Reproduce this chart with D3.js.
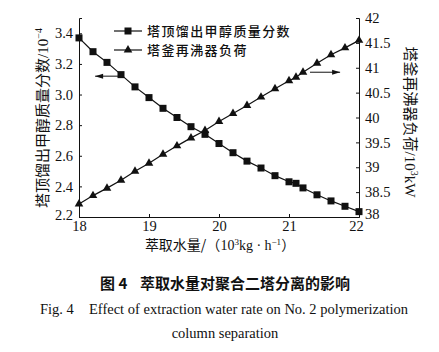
<!DOCTYPE html>
<html>
<head>
<meta charset="utf-8">
<script src="https://cdn.jsdelivr.net/npm/d3@7"></script>
<style>
  body { margin: 0; background: #fff; }
  svg { display: block; }
  .serif { font-family: "Liberation Serif", "DejaVu Serif", serif; }
  .cjk { font-family: "Noto Sans CJK SC", sans-serif; }
</style>
</head>
<body>
<svg width="439" height="352"></svg>
<script>
// extraction water rate, 10^3 kg/h
var waterRate = [18, 18.2, 18.4, 18.6, 18.8, 19, 19.2, 19.4, 19.6, 19.8, 20, 20.2, 20.4, 20.6, 20.8, 21, 21.1, 21.2, 21.4, 21.6, 21.8, 22];
// methanol mass fraction at top, 10^-4 (squares, left axis)
var methanol = [3.37, 3.28, 3.21, 3.13, 3.05, 2.98, 2.91, 2.85, 2.79, 2.74, 2.68, 2.62, 2.565, 2.52, 2.47, 2.43, 2.42, 2.39, 2.345, 2.305, 2.27, 2.235];
// reboiler duty, 10^3 kW (triangles, right axis)
var duty = [38.26, 38.43, 38.58, 38.74, 38.92, 39.08, 39.26, 39.43, 39.59, 39.74, 39.92, 40.08, 40.24, 40.41, 40.58, 40.74, 40.81, 40.91, 41.09, 41.26, 41.40, 41.55];

var xTicks = [18, 19, 20, 21, 22];
var leftTicks = [2.2, 2.4, 2.6, 2.8, 3.0, 3.2, 3.4];
var rightTicks = [38, 38.5, 39, 39.5, 40, 40.5, 41, 41.5, 42];

var svg = d3.select("svg");

var x = d3.scaleLinear().domain([18, 22]).range([79, 359]);
var yL = d3.scaleLinear().domain([2.2, 3.5]).range([217, 18]);
var yR = d3.scaleLinear().domain([38, 42]).range([217, 18]);

// axes, ticks point inward
var xAxis = svg.append("g")
    .attr("transform", "translate(0,217)")
    .call(d3.axisBottom(x).tickValues(xTicks).tickFormat(d3.format("d"))
      .tickSizeInner(-3).tickSizeOuter(0).tickPadding(4));

var lAxis = svg.append("g")
    .attr("transform", "translate(79,0)")
    .call(d3.axisLeft(yL).tickValues(leftTicks).tickFormat(d3.format(".1f"))
      .tickSizeInner(-3).tickSizeOuter(-3).tickPadding(6));

var rAxis = svg.append("g")
    .attr("transform", "translate(359,0)")
    .call(d3.axisRight(yR).tickValues(rightTicks).tickFormat(function(d) { return d; })
      .tickSizeInner(-3).tickSizeOuter(-3).tickPadding(6));

[xAxis, lAxis, rAxis].forEach(function(g) {
  g.selectAll("path, line").attr("stroke", "#111").attr("stroke-width", 1);
  g.selectAll("text")
    .attr("class", "serif")
    .attr("font-family", null)
    .style("font-size", "14.5px")
    .attr("fill", "#111");
});
// the 22 / 38 labels sit apart like the original
xAxis.selectAll(".tick text").filter(function(d) { return d == 22; }).attr("dx", "-3");
rAxis.selectAll(".tick text").filter(function(d) { return d == 38; }).attr("dy", "0.1em");
lAxis.selectAll(".tick text").filter(function(d) { return d == 2.2; }).attr("dy", "0.2em");

// series
var lineL = d3.line().x(function(d, i) { return x(waterRate[i]); }).y(function(d) { return yL(d); });
var lineR = d3.line().x(function(d, i) { return x(waterRate[i]); }).y(function(d) { return yR(d); });

svg.append("path").datum(methanol).attr("d", lineL)
  .attr("fill", "none").attr("stroke", "#111").attr("stroke-width", 1.2);
svg.append("path").datum(duty).attr("d", lineR)
  .attr("fill", "none").attr("stroke", "#111").attr("stroke-width", 1.2);

svg.selectAll("rect.sq").data(methanol).enter().append("rect")
  .attr("class", "sq")
  .attr("x", function(d, i) { return x(waterRate[i]) - 3.5; })
  .attr("y", function(d) { return yL(d) - 3.5; })
  .attr("width", 7).attr("height", 7)
  .attr("fill", "#111");

var tri = d3.symbol().type(d3.symbolTriangle).size(32);
svg.selectAll("path.tri").data(duty).enter().append("path")
  .attr("class", "tri")
  .attr("d", tri)
  .attr("transform", function(d, i) { return "translate(" + x(waterRate[i]) + "," + yR(d) + ")"; })
  .attr("fill", "#111");

// arrows pointing to each curve's axis
function arrow(x1, x2, y) {
  var dir = x2 > x1 ? 1 : -1;
  svg.append("line").attr("x1", x1).attr("x2", x2).attr("y1", y).attr("y2", y)
    .attr("stroke", "#111").attr("stroke-width", 1);
  svg.append("path")
    .attr("d", "M" + x2 + "," + y + "L" + (x2 - dir * 8) + "," + (y - 2.5) + "L" + (x2 - dir * 8) + "," + (y + 2.5) + "Z")
    .attr("fill", "#111");
}
arrow(x(18.6), x(18.23), yL(3.12));
arrow(x(21.3), x(21.73), yR(40.91));

// legend
var legend = [
  { label: "塔顶馏出甲醇质量分数", shape: "sq", y: 31 },
  { label: "塔釜再沸器负荷", shape: "tri", y: 50 }
];
legend.forEach(function(l) {
  svg.append("line").attr("x1", 114).attr("x2", 142).attr("y1", l.y).attr("y2", l.y)
    .attr("stroke", "#111").attr("stroke-width", 1.2);
  if (l.shape == "sq") {
    svg.append("rect").attr("x", 124.5).attr("y", l.y - 3.5).attr("width", 7).attr("height", 7).attr("fill", "#111");
  } else {
    svg.append("path").attr("d", tri).attr("transform", "translate(128," + l.y + ")").attr("fill", "#111");
  }
  svg.append("text").attr("class", "cjk").attr("x", 147).attr("y", l.y + 5)
    .style("font-size", "13px").style("font-weight", "500").style("letter-spacing", "1.4px")
    .attr("fill", "#111").text(l.label);
});

// axis titles
var lt = svg.append("text").attr("class", "cjk")
  .attr("transform", "translate(48,118) rotate(-90)")
  .attr("text-anchor", "middle").style("font-size", "15px").attr("fill", "#111");
lt.append("tspan").text("塔顶馏出甲醇质量分数");
lt.append("tspan").attr("class", "serif").text("/10");
lt.append("tspan").attr("class", "serif").attr("dy", "-6").style("font-size", "10px").text("−4");

var rt = svg.append("text").attr("class", "cjk")
  .attr("transform", "translate(405,122) rotate(90)")
  .attr("text-anchor", "middle").style("font-size", "15px").attr("fill", "#111");
rt.append("tspan").text("塔釜再沸器负荷");
rt.append("tspan").attr("class", "serif").text("/10");
rt.append("tspan").attr("class", "serif").attr("dy", "-6").style("font-size", "10px").text("3");
rt.append("tspan").attr("class", "serif").attr("dy", "6").text("kW");

var xt = svg.append("text").attr("class", "cjk")
  .attr("x", 220).attr("y", 250)
  .attr("text-anchor", "middle").style("font-size", "14px").attr("fill", "#111");
xt.append("tspan").text("萃取水量/（");
xt.append("tspan").attr("class", "serif").text("10");
xt.append("tspan").attr("class", "serif").attr("dy", "-5").style("font-size", "9px").text("3");
xt.append("tspan").attr("class", "serif").attr("dy", "5").text("kg · h");
xt.append("tspan").attr("class", "serif").attr("dy", "-5").style("font-size", "9px").text("−1");
xt.append("tspan").attr("dy", "5").text("）");

// caption
svg.append("text").attr("class", "cjk").attr("x", 100).attr("y", 289)
  .style("font-size", "15px").style("font-weight", "bold").attr("fill", "#111").text("图 4");
svg.append("text").attr("class", "cjk").attr("x", 140).attr("y", 289)
  .style("font-size", "15px").style("font-weight", "bold").attr("fill", "#111").text("萃取水量对聚合二塔分离的影响");
svg.append("text").attr("class", "serif").attr("x", 40).attr("y", 314)
  .style("font-size", "14.5px").attr("fill", "#111").text("Fig. 4");
svg.append("text").attr("class", "serif").attr("x", 89).attr("y", 314)
  .style("font-size", "14.5px").attr("fill", "#111").text("Effect of extraction water rate on No. 2 polymerization");
svg.append("text").attr("class", "serif").attr("x", 225).attr("y", 338)
  .attr("text-anchor", "middle").style("font-size", "14.5px").attr("fill", "#111").text("column separation");
</script>
</body>
</html>
